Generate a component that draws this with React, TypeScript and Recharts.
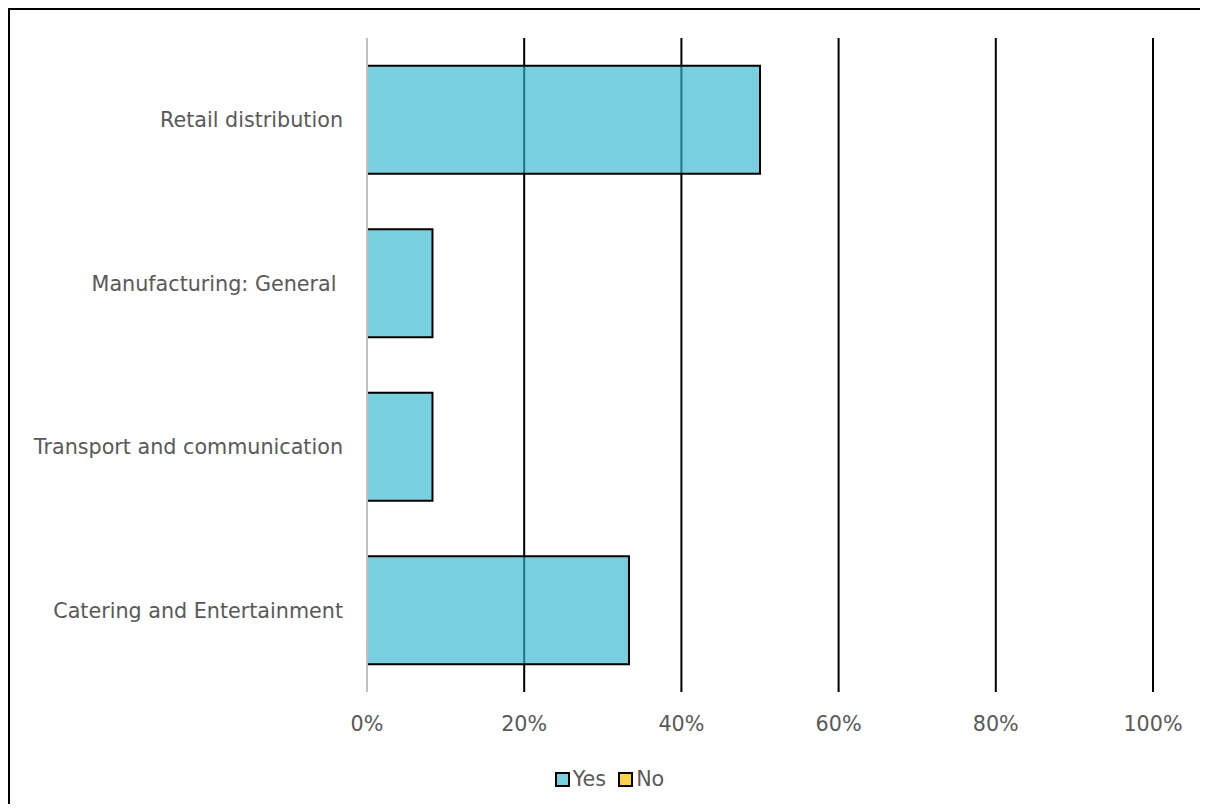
import { BarChart, Bar, XAxis, YAxis, CartesianGrid, Legend } from 'recharts'

const categories = [
  'Retail distribution',
  'Manufacturing: General\u00a0',
  'Transport and communication',
  'Catering and Entertainment',
]
const yesValues = [0.5, 0.0833, 0.0833, 0.3333]
const noValues = [0, 0, 0, 0]
const xTicks = [0, 0.2, 0.4, 0.6, 0.8, 1]

const data = categories.map((name, i) => ({ name, yes: yesValues[i], no: noValues[i] }))

const FONT = 'DejaVu Sans, Verdana, sans-serif'
const TEXT = '#595959'
const FS = 20.7

const legendItems = [
  { label: 'Yes', color: '#78cfdf' },
  { label: 'No', color: '#ffd24d' },
]

function LegendContent() {
  return (
    <div style={{ display: 'flex', justifyContent: 'center', gap: 12, paddingLeft: 56, fontFamily: FONT, fontSize: FS, color: TEXT }}>
      {legendItems.map(item => (
        <div key={item.label} style={{ display: 'flex', alignItems: 'center', gap: 3 }}>
          <span style={{ width: 11, height: 11, background: item.color, border: '2px solid #000', display: 'inline-block' }} />
          <span>{item.label}</span>
        </div>
      ))}
    </div>
  )
}

export default function App() {
  return (
    <div style={{ width: 1198, height: 802, marginBottom: -8, borderTop: '2px solid #000', borderLeft: '2px solid #000', overflow: 'hidden' }}>
      <BarChart
        width={1198}
        height={802}
        data={data}
        layout="vertical"
        barCategoryGap="17%"
        margin={{ top: 28, right: 55, bottom: 5, left: 0 }}
      >
        <CartesianGrid horizontal={false} stroke="#000" strokeWidth={2} />
        <XAxis
          type="number"
          domain={[0, 1]}
          ticks={xTicks}
          tickFormatter={v => `${Math.round(v * 100)}%`}
          axisLine={false}
          tickLine={false}
          tickSize={0}
          tickMargin={24}
          height={75}
          tick={{ fill: TEXT, fontSize: FS, fontFamily: FONT }}
        />
        <YAxis
          type="category"
          dataKey="name"
          width={357}
          axisLine={{ stroke: '#bfbfbf', strokeWidth: 2 }}
          tickLine={false}
          tickSize={0}
          tickMargin={24}
          tick={{ fill: TEXT, fontSize: FS, fontFamily: FONT, style: { whiteSpace: 'pre' } }}
        />
        <Legend verticalAlign="bottom" height={40} content={<LegendContent />} />
        <Bar dataKey="yes" name="Yes" stackId="a" fill="#30b5ce" fillOpacity={0.65} stroke="#000" strokeWidth={2} isAnimationActive={false} />
        <Bar dataKey="no" name="No" stackId="a" fill="#ffd24d" stroke="#000" strokeWidth={2} isAnimationActive={false} />
      </BarChart>
    </div>
  )
}
